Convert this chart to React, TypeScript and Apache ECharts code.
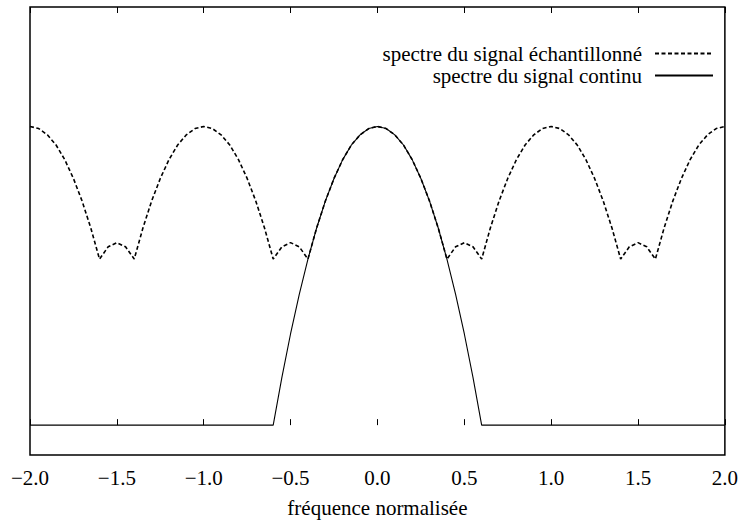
import React, { useEffect, useRef } from "react";
import * as echarts from "echarts";

const FONT = "Liberation Serif, Times New Roman, serif";

// Normalised frequency grid (x values)
const freq = [
  -2.0, -1.95, -1.9, -1.85, -1.8, -1.75, -1.7, -1.65, -1.6, -1.55,
  -1.5, -1.45, -1.4, -1.35, -1.3, -1.25, -1.2, -1.15, -1.1, -1.05,
  -1.0, -0.95, -0.9, -0.85, -0.8, -0.75, -0.7, -0.65, -0.6, -0.55,
  -0.5, -0.45, -0.4, -0.35, -0.3, -0.25, -0.2, -0.15, -0.1, -0.05,
  0.0, 0.05, 0.1, 0.15, 0.2, 0.25, 0.3, 0.35, 0.4, 0.45,
  0.5, 0.55, 0.6, 0.65, 0.7, 0.75, 0.8, 0.85, 0.9, 0.95,
  1.0, 1.05, 1.1, 1.15, 1.2, 1.25, 1.3, 1.35, 1.4, 1.45,
  1.5, 1.55, 1.6, 1.65, 1.7, 1.75, 1.8, 1.85, 1.9, 1.95,
  2.0,
];

// Spectrum of the sampled signal (dashed)
const sampledSpectrum = [
  1.0, 0.993, 0.972, 0.938, 0.889, 0.826, 0.75, 0.66, 0.556, 0.597,
  0.611, 0.597, 0.556, 0.66, 0.75, 0.826, 0.889, 0.938, 0.972, 0.993,
  1.0, 0.993, 0.972, 0.938, 0.889, 0.826, 0.75, 0.66, 0.556, 0.597,
  0.611, 0.597, 0.556, 0.66, 0.75, 0.826, 0.889, 0.938, 0.972, 0.993,
  1.0, 0.993, 0.972, 0.938, 0.889, 0.826, 0.75, 0.66, 0.556, 0.597,
  0.611, 0.597, 0.556, 0.66, 0.75, 0.826, 0.889, 0.938, 0.972, 0.993,
  1.0, 0.993, 0.972, 0.938, 0.889, 0.826, 0.75, 0.66, 0.556, 0.597,
  0.611, 0.597, 0.556, 0.66, 0.75, 0.826, 0.889, 0.938, 0.972, 0.993,
  1.0,
];

// Spectrum of the continuous signal (solid)
const continuousSpectrum = [
  0, 0, 0, 0, 0, 0, 0, 0, 0, 0,
  0, 0, 0, 0, 0, 0, 0, 0, 0, 0,
  0, 0, 0, 0, 0, 0, 0, 0, 0, 0.16,
  0.306, 0.438, 0.556, 0.66, 0.75, 0.826, 0.889, 0.938, 0.972, 0.993,
  1.0, 0.993, 0.972, 0.938, 0.889, 0.826, 0.75, 0.66, 0.556, 0.438,
  0.306, 0.16, 0, 0, 0, 0, 0, 0, 0, 0,
  0, 0, 0, 0, 0, 0, 0, 0, 0, 0,
  0, 0, 0, 0, 0, 0, 0, 0, 0, 0,
  0,
];

const seriesNames = ["spectre du signal échantillonné", "spectre du signal continu"];
const xTitle = "fréquence normalisée";

const fmt = (v: number) => v.toFixed(1).replace("-", "\u2212");

export default function App() {
  const ref = useRef<HTMLDivElement>(null);
  useEffect(() => {
    const chart = echarts.init(ref.current!, null, { renderer: "svg" });
    const tickStyle = { inside: true, length: 6, lineStyle: { color: "#000", width: 1 } };
    chart.setOption({
      animation: false,
      backgroundColor: "#fff",
      textStyle: { fontFamily: FONT },
      grid: {
        left: 30,
        right: 16,
        top: 7,
        bottom: 69,
        show: true,
        borderColor: "#000",
        borderWidth: 1.5,
        backgroundColor: "transparent",
      },
      legend: {
        orient: "vertical",
        right: 22,
        top: 38,
        align: "right",
        itemWidth: 58,
        itemHeight: 14,
        itemGap: 1,
        selectedMode: false,
        itemStyle: { color: "rgba(0,0,0,0)", borderColor: "rgba(0,0,0,0)", borderWidth: 0, opacity: 0 },
        textStyle: {
          fontSize: 21,
          fontFamily: FONT,
          color: "#000",
          lineHeight: 19,
          padding: [0, 8, 0, 0],
        },
        data: seriesNames,
      },
      xAxis: [
        {
          type: "value",
          min: -2,
          max: 2,
          interval: 0.5,
          position: "bottom",
          axisLine: { show: false },
          axisTick: tickStyle,
          axisLabel: {
            margin: 12,
            fontSize: 21,
            color: "#000",
            fontFamily: FONT,
            formatter: fmt,
            showMinLabel: true,
            showMaxLabel: true,
          },
          splitLine: { show: false },
          name: xTitle,
          nameLocation: "middle",
          nameGap: 42,
          nameTextStyle: { fontSize: 21, color: "#000", fontFamily: FONT },
        },
        {
          type: "value",
          min: -2,
          max: 2,
          interval: 0.5,
          position: "top",
          axisLine: { show: false },
          axisTick: tickStyle,
          axisLabel: { show: false },
          splitLine: { show: false },
        },
      ],
      yAxis: { type: "value", min: -0.1, max: 1.4, show: false },
      series: [
        {
          name: seriesNames[0],
          type: "line",
          xAxisIndex: 0,
          symbol: "none",
          data: freq.map((f, i) => [f, sampledSpectrum[i]]),
          lineStyle: { color: "#000", width: 1.6, type: [4, 2.5] },
          itemStyle: { color: "#000" },
        },
        {
          name: seriesNames[1],
          type: "line",
          xAxisIndex: 0,
          symbol: "none",
          data: freq.map((f, i) => [f, continuousSpectrum[i]]),
          lineStyle: { color: "#000", width: 1.1, type: "solid" },
          itemStyle: { color: "#000" },
        },
      ],
    });
    return () => chart.dispose();
  }, []);
  return (
    <div
      ref={ref}
      style={{ position: "fixed", left: 0, top: 0, width: 741, height: 524, background: "#fff" }}
    />
  );
}
